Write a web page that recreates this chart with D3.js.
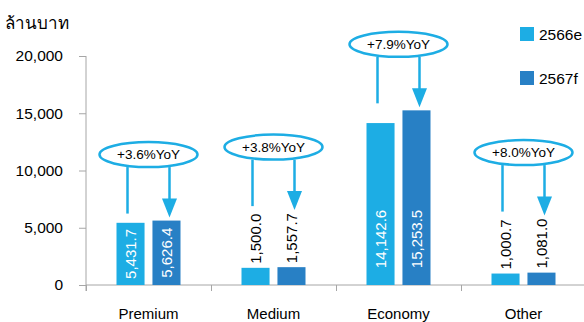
<!DOCTYPE html>
<html>
<head>
<meta charset="utf-8">
<script src="https://cdn.jsdelivr.net/npm/d3@7"></script>
<style>
  body { margin: 0; background: #fff; }
  svg { display: block; font-family: "Liberation Sans", Arial, sans-serif; }
  .axis path, .axis line { stroke: #a6a6a6; }
  .axis text { fill: #000; }
</style>
</head>
<body>
<div id="chart"></div>
<script>
var categories = ["Premium", "Medium", "Economy", "Other"],
    seriesNames = ["2566e", "2567f"],
    values2566 = [5431.7, 1500.0, 14142.6, 1000.7],
    values2567 = [5626.4, 1557.7, 15253.5, 1081.0],
    yoyLabels = ["+3.6%YoY", "+3.8%YoY", "+7.9%YoY", "+8.0%YoY"],
    yTicks = [0, 5000, 10000, 15000, 20000];

var width = 584,
    height = 322,
    colors = ["#1dade4", "#2880c5"],
    fmt = d3.format(",.1f");

var rows = categories.map(function(c, i) {
  return { cat: c, vals: [values2566[i], values2567[i]], yoy: yoyLabels[i] };
});

var svg = d3.select("#chart").append("svg")
    .attr("width", width)
    .attr("height", height);

var x0 = d3.scaleBand()
    .domain(categories)
    .range([86, 586])
    .padding(0);

var x1 = d3.scaleBand()
    .domain([0, 1])
    .range([30.5, 94.5])
    .paddingInner(0.22);

var y = d3.scaleLinear()
    .domain([0, 20000])
    .range([285, 56]);

// y axis
var yAxis = svg.append("g")
    .attr("class", "axis")
    .attr("transform", "translate(86,0)")
    .call(d3.axisLeft(y).tickValues(yTicks).tickFormat(d3.format(",")).tickSize(7).tickPadding(16).tickSizeOuter(0));
yAxis.select(".domain").attr("d", "M0," + y(20000) + "V" + (y(0) + 6));
yAxis.selectAll("text").style("font-size", "15.5px");

// x axis: plain line with ticks at category boundaries
var xAxis = svg.append("g").attr("class", "axis");
xAxis.append("line")
    .attr("x1", 86).attr("x2", width)
    .attr("y1", y(0)).attr("y2", y(0));
xAxis.selectAll(".sep")
    .data(categories)
    .enter().append("line")
    .attr("class", "sep")
    .attr("x1", function(d) { return x0(d) + 0.5; })
    .attr("x2", function(d) { return x0(d) + 0.5; })
    .attr("y1", y(0)).attr("y2", y(0) + 6);
xAxis.selectAll(".cat")
    .data(categories)
    .enter().append("text")
    .attr("x", function(d) { return x0(d) + x0.bandwidth() / 2; })
    .attr("y", 319)
    .attr("text-anchor", "middle")
    .style("font-size", "15px")
    .text(function(d) { return d; });

// title
svg.append("text")
    .attr("x", 5)
    .attr("y", 29)
    .style("font-size", "17px")
    .text("ล้านบาท");

// bars
var groups = svg.selectAll(".grp")
    .data(rows)
    .enter().append("g")
    .attr("class", "grp")
    .attr("transform", function(d) { return "translate(" + x0(d.cat) + ",0)"; });

groups.selectAll("rect")
    .data(function(d) { return d.vals; })
    .enter().append("rect")
    .attr("x", function(d, i) { return x1(i); })
    .attr("y", function(d) { return y(d); })
    .attr("width", x1.bandwidth())
    .attr("height", function(d) { return y(0) - y(d); })
    .attr("fill", function(d, i) { return colors[i]; });

// value labels, rotated
groups.each(function(row) {
  var g = d3.select(this);
  var top = Infinity;
  row.vals.forEach(function(v, i) {
    var cx = x1(i) + x1.bandwidth() / 2,
        inside = v > 3000,
        t = g.append("text")
          .style("font-size", "15px")
          .attr("dy", "0.35em")
          .attr("fill", inside ? "#fff" : "#000")
          .text(fmt(v));
    var len = t.node().getComputedTextLength();
    var cy;
    if (inside) {
      cy = Math.max((y(v) + y(0)) / 2, y(0) - 46);
      top = Math.min(top, y(v));
    } else {
      cy = y(v) - 4 - len / 2;
      top = Math.min(top, y(v) - 4 - len);
    }
    t.attr("text-anchor", "middle")
      .attr("transform", "translate(" + cx + "," + cy + ") rotate(-90)");
  });
  row.top = top;
});

// YoY annotations
var blue = colors[0];
groups.each(function(row) {
  var g = d3.select(this),
      cx = x0.bandwidth() / 2,
      cy = row.top - 66,
      rx = 49, ry = 12.5;
  g.append("line")
      .attr("x1", cx - 21).attr("x2", cx - 21)
      .attr("y1", cy + ry).attr("y2", cy + 59)
      .attr("stroke", blue).attr("stroke-width", 2.5);
  g.append("line")
      .attr("x1", cx + 21).attr("x2", cx + 21)
      .attr("y1", cy + ry).attr("y2", cy + 46)
      .attr("stroke", blue).attr("stroke-width", 2.5);
  g.append("path")
      .attr("d", "M" + (cx + 21 - 7.5) + "," + (cy + 44) + "L" + (cx + 21 + 7.5) + "," + (cy + 44) + "L" + (cx + 21) + "," + (cy + 63) + "Z")
      .attr("fill", blue);
  g.append("ellipse")
      .attr("cx", cx).attr("cy", cy)
      .attr("rx", rx).attr("ry", ry)
      .attr("fill", "#fff")
      .attr("stroke", blue).attr("stroke-width", 2.5);
  g.append("text")
      .attr("x", cx).attr("y", cy)
      .attr("dy", "0.36em")
      .attr("text-anchor", "middle")
      .style("font-size", "13.5px")
      .text(row.yoy);
});

// legend
var legend = svg.selectAll(".leg")
    .data(seriesNames)
    .enter().append("g")
    .attr("class", "leg")
    .attr("transform", function(d, i) { return "translate(520," + (27 + i * 44) + ")"; });
legend.append("rect")
    .attr("width", 14).attr("height", 14)
    .attr("fill", function(d, i) { return colors[i]; });
legend.append("text")
    .attr("x", 19).attr("y", 7)
    .attr("dy", "0.36em")
    .style("font-size", "15.5px")
    .text(function(d) { return d; });
</script>
</body>
</html>
